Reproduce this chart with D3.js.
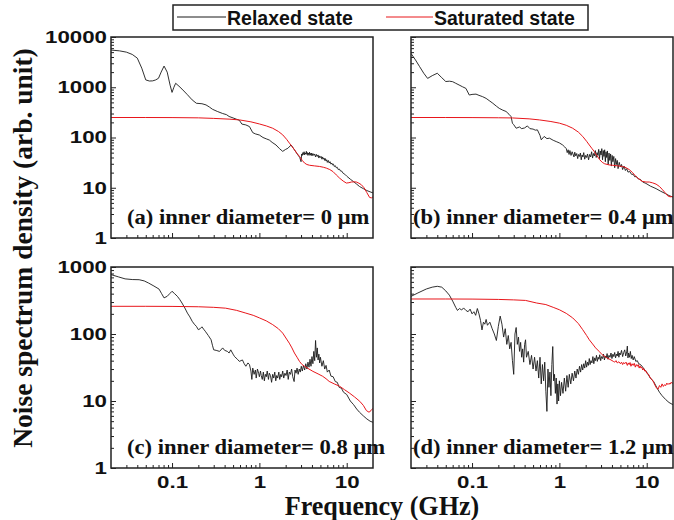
<!DOCTYPE html>
<html>
<head>
<meta charset="utf-8">
<script src="https://d3js.org/d3.v7.min.js"></script>
<style>
  body { margin: 0; background: #fff; }
  svg { display: block; }
</style>
</head>
<body>
<div id="chart"></div>
<script>
// Frequency in GHz, noise spectrum density in arb. unit
const relaxedA = [
  [0.02, 5500], [0.025, 5300], [0.03, 5000], [0.035, 4500], [0.04, 3800], [0.045, 2400], [0.05, 1400],
  [0.055, 1330], [0.06, 1340], [0.065, 1400], [0.07, 1510], [0.075, 2000], [0.081, 2640], [0.088, 2000],
  [0.095, 1100], [0.1, 790], [0.105, 1000], [0.11, 1200], [0.12, 1050], [0.13, 920], [0.15, 710],
  [0.17, 560], [0.19, 480], [0.22, 470], [0.245, 445], [0.27, 400], [0.29, 365], [0.33, 330], [0.38, 300],
  [0.42, 285], [0.45, 262], [0.5, 245], [0.55, 230], [0.59, 220], [0.63, 185], [0.7, 178], [0.77, 165],
  [0.84, 125], [0.9, 118], [1.0, 112], [1.1, 100], [1.2, 94], [1.3, 89], [1.4, 80], [1.55, 71],
  [1.7, 60], [1.85, 53], [2.0, 58], [2.12, 61], [2.31, 71], [2.52, 57], [2.76, 45], [2.9, 40],
  [3.0, 33], [3.05, 47], [3.1, 44], [3.15, 50], [3.2, 46], [3.25, 52], [3.3, 45], [3.35, 49], [3.4, 47],
  [3.45, 53], [3.5, 46], [3.55, 50], [3.6, 44], [3.65, 49], [3.7, 46], [3.75, 51], [3.8, 44], [3.85, 48],
  [3.9, 45], [3.95, 49], [4.0, 43], [4.1, 48], [4.2, 44], [4.3, 47], [4.4, 41], [4.5, 46], [4.6, 42],
  [4.7, 45], [4.8, 39], [4.9, 43], [5.0, 40], [5.1, 42], [5.2, 37], [5.3, 41], [5.4, 37], [5.5, 39],
  [5.6, 35], [5.7, 38], [5.8, 34], [5.9, 36], [6.0, 32], [6.15, 35], [6.3, 31], [6.45, 33], [6.6, 29.5],
  [6.75, 31], [6.9, 28.5], [7.05, 29.5], [7.2, 26.5], [7.4, 27.5], [7.6, 25], [7.8, 25.5], [8.0, 23],
  [8.25, 23.5], [8.5, 21.5], [8.75, 21.5], [9.0, 19.8], [9.5, 18.6], [10, 17], [11, 14.8], [12, 13.2],
  [13, 11.8], [14, 10.6], [15.5, 9.6], [17, 8.8], [18.5, 8.3], [20, 7.9]
];
const saturatedA = [
  [0.02, 250], [0.05, 250], [0.1, 249], [0.2, 246], [0.3, 240], [0.45, 232], [0.59, 224], [0.8, 205],
  [1.0, 186], [1.2, 170], [1.42, 153], [1.65, 132], [1.85, 113], [2.05, 92], [2.21, 77], [2.38, 65],
  [2.52, 57], [2.7, 48], [2.88, 42], [3.1, 35], [3.29, 31], [3.5, 29], [3.76, 28], [4.3, 27.2],
  [4.9, 26.5], [5.4, 25.6], [5.84, 24.6], [6.4, 23], [6.96, 21], [7.6, 18], [8.3, 15.5], [9.1, 13.6],
  [9.9, 12.4], [10.6, 12.6], [11.3, 13], [12.1, 13.1], [12.9, 13], [13.8, 12.3], [14.7, 11.5],
  [15.8, 10], [17, 8], [18.3, 6.4], [19.2, 6.3], [20, 6.6]
];

const relaxedB = [
  [0.02, 4700], [0.0225, 3500], [0.025, 2600], [0.028, 1900], [0.031, 1500], [0.035, 1700], [0.04, 1900],
  [0.045, 1550], [0.05, 1300], [0.055, 1320], [0.06, 1290], [0.065, 1200], [0.071, 1110], [0.078, 1020],
  [0.085, 950], [0.093, 700], [0.1, 720], [0.111, 730], [0.12, 690], [0.132, 650], [0.145, 600],
  [0.16, 530], [0.173, 480], [0.19, 420], [0.205, 380], [0.225, 350], [0.245, 330], [0.265, 290],
  [0.28, 260], [0.29, 192], [0.3, 180], [0.32, 153], [0.35, 162], [0.37, 150], [0.4, 155], [0.43, 170],
  [0.46, 150], [0.5, 147], [0.53, 140], [0.56, 142], [0.6, 110], [0.62, 90], [0.67, 105], [0.72, 95],
  [0.77, 97], [0.85, 88], [0.92, 83], [1.0, 78], [1.09, 71], [1.15, 65], [1.2, 60], [1.23, 50],
  [1.26, 57], [1.29, 46], [1.32, 55], [1.36, 44], [1.4, 52], [1.43, 47], [1.47, 41], [1.5, 51],
  [1.54, 43], [1.58, 48], [1.62, 38], [1.66, 46], [1.7, 42], [1.74, 49], [1.78, 36], [1.82, 45],
  [1.86, 41], [1.9, 50], [1.95, 37], [2.0, 44], [2.05, 40], [2.1, 47], [2.16, 36], [2.22, 46],
  [2.28, 41], [2.34, 52], [2.4, 39], [2.46, 48], [2.52, 43], [2.58, 55], [2.64, 40], [2.7, 50],
  [2.76, 44], [2.82, 58], [2.88, 38], [2.94, 54], [3.0, 45], [3.06, 60], [3.12, 36], [3.18, 55],
  [3.24, 42], [3.3, 57], [3.36, 33], [3.42, 52], [3.48, 40], [3.55, 54], [3.62, 29], [3.7, 49],
  [3.78, 35], [3.86, 47], [3.94, 27], [4.02, 44], [4.1, 33], [4.2, 42], [4.3, 25], [4.4, 38], [4.5, 29],
  [4.6, 35], [4.7, 24], [4.85, 32], [5.0, 26], [5.15, 29], [5.3, 23], [5.5, 27], [5.7, 22], [5.9, 24],
  [6.1, 20.5], [6.4, 21], [6.7, 18.5], [7.0, 18.5], [7.3, 16.5], [7.6, 16.8], [8.0, 15], [8.5, 14.6],
  [9.0, 13], [9.8, 12.2], [11, 10.8], [12.8, 9.6], [14.5, 8.5], [16.5, 7.6], [18, 7], [20, 6.5]
];
const saturatedB = [
  [0.02, 250], [0.05, 250], [0.1, 249], [0.2, 247], [0.29, 245], [0.45, 235], [0.59, 224], [0.8, 208],
  [1.0, 193], [1.2, 175], [1.42, 153], [1.65, 128], [1.85, 105], [2.05, 84], [2.2, 71], [2.35, 61],
  [2.5, 53], [2.7, 43], [2.9, 36], [3.1, 32], [3.3, 30], [3.7, 28.5], [4.1, 28], [4.7, 27.2],
  [5.3, 26.5], [5.8, 25], [6.3, 23], [6.9, 20], [7.5, 16.8], [8.2, 14.8], [8.9, 13.4], [9.8, 13],
  [10.7, 13], [11.7, 12.5], [12.8, 11.8], [14, 10.6], [15.2, 9.1], [16.3, 7.9], [17.4, 6.9],
  [18.5, 6.6], [19.8, 6.7], [20, 6.8]
];

const relaxedC = [
  [0.02, 770], [0.0245, 710], [0.029, 665], [0.035, 650], [0.042, 646], [0.048, 620], [0.054, 575],
  [0.062, 520], [0.071, 468], [0.076, 400], [0.081, 346], [0.088, 365], [0.094, 400], [0.1, 434],
  [0.107, 400], [0.115, 365], [0.122, 330], [0.13, 290], [0.14, 245], [0.15, 205], [0.16, 180],
  [0.17, 155], [0.18, 140], [0.19, 130], [0.2, 116], [0.21, 120], [0.22, 128], [0.23, 118], [0.24, 110],
  [0.26, 95], [0.28, 82], [0.29, 68], [0.3, 58], [0.32, 57], [0.35, 55], [0.38, 62], [0.4, 57],
  [0.43, 55], [0.45, 52], [0.47, 58], [0.5, 50], [0.52, 46], [0.56, 42], [0.59, 39], [0.64, 41],
  [0.67, 36], [0.7, 33], [0.74, 37], [0.77, 35], [0.8, 28], [0.82, 21], [0.84, 31], [0.87, 25],
  [0.9, 29], [0.92, 22], [0.95, 30], [0.98, 26], [1.0, 23], [1.03, 28], [1.05, 24], [1.08, 21],
  [1.11, 27], [1.14, 20], [1.17, 25], [1.2, 23], [1.23, 28], [1.27, 21], [1.3, 26], [1.34, 24],
  [1.38, 19], [1.42, 25], [1.46, 22], [1.5, 27], [1.54, 20], [1.58, 24], [1.62, 22], [1.67, 27],
  [1.71, 21], [1.76, 25], [1.8, 23], [1.85, 28], [1.9, 22], [1.96, 26], [2.02, 24], [2.08, 29],
  [2.14, 21], [2.2, 27], [2.27, 25], [2.34, 30], [2.41, 23], [2.5, 19.5], [2.56, 29], [2.63, 26],
  [2.7, 31], [2.78, 25], [2.86, 30], [2.94, 27], [3.02, 33], [3.1, 28], [3.2, 34], [3.3, 29],
  [3.4, 36], [3.5, 30], [3.6, 38], [3.7, 32], [3.8, 42], [3.9, 33], [4.0, 46], [4.1, 36], [4.2, 55],
  [4.3, 40], [4.4, 80], [4.5, 45], [4.6, 62], [4.7, 41], [4.8, 50], [4.9, 37], [5.0, 45], [5.2, 33],
  [5.4, 40], [5.6, 30], [5.8, 34], [6.0, 27], [6.3, 29], [6.6, 23.5], [7.0, 23], [7.4, 19.5], [7.8, 19],
  [8.2, 16], [8.7, 15.5], [9.2, 13.5], [10, 12.5], [11, 10], [12, 8.8], [13, 7.6], [14, 6.8],
  [15.5, 6], [17, 5.4], [18.5, 5], [20, 4.8]
];
const saturatedC = [
  [0.02, 259], [0.05, 259], [0.1, 258], [0.2, 255], [0.3, 250], [0.41, 243], [0.55, 225], [0.7, 205],
  [0.85, 190], [1.0, 174], [1.2, 157], [1.42, 138], [1.65, 120], [1.85, 103], [2.05, 84], [2.2, 73],
  [2.36, 62], [2.52, 52], [2.7, 45], [2.88, 39], [3.08, 35], [3.29, 33], [3.7, 30], [4.1, 27.7],
  [4.7, 25.4], [5.3, 23.4], [5.8, 21.5], [6.3, 19.6], [7.2, 18], [8.3, 16.6], [9.4, 14.8], [10.7, 13.2],
  [12.3, 11.5], [14.1, 9.9], [15.5, 8.6], [16.8, 7.2], [18, 6.8], [19, 7.2], [20, 7.8]
];

const relaxedD = [
  [0.02, 364], [0.024, 410], [0.03, 470], [0.035, 500], [0.04, 515], [0.045, 500], [0.05, 440],
  [0.055, 380], [0.06, 310], [0.065, 250], [0.068, 225], [0.072, 240], [0.076, 228], [0.08, 245],
  [0.085, 225], [0.09, 215], [0.095, 235], [0.1, 200], [0.105, 215], [0.11, 190], [0.115, 240],
  [0.12, 200], [0.125, 160], [0.13, 115], [0.135, 150], [0.14, 140], [0.145, 165], [0.15, 135],
  [0.16, 150], [0.17, 120], [0.18, 100], [0.19, 80], [0.2, 130], [0.21, 185], [0.22, 140], [0.23, 90],
  [0.24, 120], [0.25, 70], [0.26, 95], [0.27, 60], [0.28, 75], [0.29, 40], [0.3, 25], [0.31, 100],
  [0.32, 125], [0.33, 70], [0.34, 90], [0.35, 55], [0.36, 75], [0.37, 45], [0.38, 60], [0.39, 38],
  [0.4, 70], [0.41, 82], [0.42, 45], [0.44, 55], [0.46, 35], [0.48, 48], [0.5, 30], [0.52, 45],
  [0.54, 28], [0.56, 40], [0.58, 22], [0.6, 45], [0.62, 18], [0.64, 35], [0.66, 20], [0.68, 38],
  [0.7, 14], [0.72, 7], [0.74, 30], [0.76, 16], [0.78, 27], [0.8, 12], [0.82, 35], [0.84, 65],
  [0.86, 20], [0.88, 25], [0.9, 13], [0.92, 22], [0.94, 9], [0.96, 18], [0.98, 10], [1.0, 20],
  [1.03, 12], [1.06, 19], [1.1, 13], [1.14, 22], [1.18, 14], [1.22, 24], [1.26, 16], [1.3, 25],
  [1.35, 18], [1.4, 26], [1.45, 20], [1.5, 28], [1.55, 22], [1.6, 30], [1.65, 25], [1.7, 33],
  [1.75, 27], [1.8, 35], [1.85, 29], [1.9, 36], [1.95, 31], [2.0, 40], [2.05, 32], [2.1, 38],
  [2.15, 34], [2.2, 43], [2.25, 35], [2.3, 40], [2.36, 37], [2.42, 46], [2.48, 36], [2.54, 44],
  [2.6, 40], [2.66, 48], [2.72, 39], [2.78, 45], [2.84, 42], [2.9, 49], [2.97, 40], [3.04, 46],
  [3.12, 43], [3.2, 50], [3.28, 41], [3.36, 47], [3.44, 44], [3.52, 51], [3.6, 42], [3.7, 48],
  [3.8, 45], [3.9, 52], [4.0, 43], [4.1, 50], [4.2, 46], [4.3, 53], [4.4, 44], [4.5, 50], [4.6, 47],
  [4.7, 55], [4.8, 45], [4.9, 52], [5.0, 49], [5.15, 57], [5.3, 46], [5.45, 53], [5.6, 58], [5.75, 47],
  [5.9, 54], [6.0, 66], [6.1, 44], [6.2, 52], [6.35, 45], [6.5, 55], [6.65, 43], [6.8, 48], [7.0, 41],
  [7.2, 46], [7.5, 39], [7.8, 40], [8.1, 36], [8.5, 35], [9.0, 32], [9.5, 29], [10, 27], [11, 22],
  [12, 19.5], [13, 16], [14, 13.5], [15, 12], [16.5, 10.5], [18, 9.5], [20, 8.8]
];
const saturatedD = [
  [0.02, 333], [0.05, 333], [0.1, 332], [0.2, 328], [0.3, 323], [0.41, 317], [0.55, 290], [0.7, 275],
  [0.85, 250], [1.0, 230], [1.2, 203], [1.42, 174], [1.65, 143], [1.85, 116], [2.05, 95], [2.2, 82],
  [2.4, 71], [2.6, 62], [2.85, 55], [3.1, 49], [3.5, 44], [3.9, 41], [4.15, 39], [4.3, 38], [4.45, 40],
  [4.6, 37], [4.8, 38.5], [5.0, 36], [5.15, 38], [5.3, 35], [5.45, 37.5], [5.6, 36], [5.8, 38],
  [6.0, 34], [6.15, 37], [6.3, 35], [6.45, 37.5], [6.6, 33], [6.8, 36], [7.0, 34], [7.2, 36.5],
  [7.4, 32], [7.6, 35], [7.8, 33], [8.0, 35], [8.2, 31], [8.4, 33.5], [8.6, 31], [8.8, 32], [9.0, 29],
  [9.25, 30.5], [9.5, 28], [9.75, 28.5], [10, 26], [10.5, 25], [11, 22], [11.5, 21], [12, 19],
  [12.5, 17], [13, 15.5], [13.5, 15], [14, 17], [14.5, 16], [15, 18], [15.5, 16.5], [16, 17.5],
  [16.5, 17], [17, 18.5], [17.5, 17.6], [18, 18.4], [18.5, 17.8], [19, 19], [19.5, 18.4], [20, 18.6]
];

const panelLabels = ['(a) inner diameter= 0 \u03bcm', '(b) inner diameter= 0.4 \u03bcm',
                     '(c) inner diameter= 0.8 \u03bcm', '(d) inner diameter= 1.2 \u03bcm'];
const yTopTicks = [1, 10, 100, 1000, 10000];
const yBottomTicks = [1, 10, 100, 1000];
const xTicks = [0.1, 1, 10];
const seriesNames = ['Relaxed state', 'Saturated state'];

const width = 674, height = 520;
const svg = d3.select('#chart').append('svg').attr('width', width).attr('height', height);

const pw = 262, ph = 201;
const colX = [111, 411], rowY = [37, 267];
const sans = '"Liberation Sans", Arial, sans-serif';
const serif = '"Liberation Serif", "Times New Roman", serif';

const panels = [
  { rel: relaxedA, sat: saturatedA, yMax: 10000, ticks: yTopTicks, col: 0, row: 0 },
  { rel: relaxedB, sat: saturatedB, yMax: 10000, ticks: yTopTicks, col: 1, row: 0 },
  { rel: relaxedC, sat: saturatedC, yMax: 1000, ticks: yBottomTicks, col: 0, row: 1 },
  { rel: relaxedD, sat: saturatedD, yMax: 1000, ticks: yBottomTicks, col: 1, row: 1 }
];

function minorTicks(lo, hi) {
  const out = [];
  for (let dec = 0.01; dec <= hi; dec *= 10) {
    for (let m = 2; m <= 9; m++) {
      const v = +(dec * m).toPrecision(3);
      if (v > lo && v < hi) out.push(v);
    }
  }
  return out;
}

// the original lettering is drawn wider than the font's own width
function widen(sel, factor) {
  sel.each(function () {
    const w = this.getComputedTextLength();
    if (w > 0) d3.select(this).attr('textLength', w * factor).attr('lengthAdjust', 'spacingAndGlyphs');
  });
}

panels.forEach((p, i) => {
  const g = svg.append('g').attr('transform', `translate(${colX[p.col]},${rowY[p.row]})`);
  const x = d3.scaleLog().domain([0.02, 20]).range([0, pw]);
  const y = d3.scaleLog().domain([1, p.yMax]).range([ph, 0]);

  g.append('clipPath').attr('id', 'clip' + i)
    .append('rect').attr('width', pw).attr('height', ph);

  const line = d3.line().x(d => x(d[0])).y(d => y(d[1]));
  const plot = g.append('g').attr('clip-path', `url(#clip${i})`);
  plot.append('path').datum(p.rel)
    .attr('fill', 'none').attr('stroke', '#1a1a1a').attr('stroke-width', 0.9)
    .attr('stroke-linejoin', 'round').attr('d', line);
  plot.append('path').datum(p.sat)
    .attr('fill', 'none').attr('stroke', '#e8161b').attr('stroke-width', 1)
    .attr('stroke-linejoin', 'round').attr('d', line);

  // left axis, ticks pointing inward
  const yMajor = d3.axisLeft(y).tickValues(p.ticks).tickSize(-5).tickPadding(4)
    .tickFormat(p.col === 0 ? d3.format('d') : '');
  g.append('g').call(yMajor);
  g.append('g').call(d3.axisLeft(y).tickValues(minorTicks(1, p.yMax)).tickSize(-3).tickFormat(''));

  // bottom axis, ticks pointing inward
  const xMajor = d3.axisBottom(x).tickValues(xTicks).tickSize(-5).tickPadding(8.5)
    .tickFormat(p.row === 1 ? (d => String(d)) : '');
  g.append('g').attr('transform', `translate(0,${ph})`).call(xMajor);
  g.append('g').attr('transform', `translate(0,${ph})`)
    .call(d3.axisBottom(x).tickValues(minorTicks(0.02, 20)).tickSize(-3).tickFormat(''));

  g.selectAll('.domain').remove();
  g.selectAll('.tick line').attr('stroke', '#222').attr('stroke-width', 1);
  g.selectAll('.tick text').attr('font-family', sans).attr('font-weight', 'bold')
    .attr('font-size', 16.5).attr('fill', '#111').call(widen, 1.35);

  g.append('rect').attr('width', pw).attr('height', ph)
    .attr('fill', 'none').attr('stroke', '#222').attr('stroke-width', 1.5);

  g.append('text').attr('x', p.col === 0 ? 16 : 2).attr('y', ph - 14)
    .attr('font-family', serif).attr('font-weight', 'bold').attr('font-size', 20)
    .attr('fill', '#111').text(panelLabels[i]).call(widen, 1.13);
});

// legend
const lg = svg.append('g');
lg.append('rect').attr('x', 173).attr('y', 5).attr('width', 415).attr('height', 25)
  .attr('fill', '#fff').attr('stroke', '#222').attr('stroke-width', 1.5);
const legendItems = [
  { name: seriesNames[0], color: '#1a1a1a', x0: 177, x1: 226 },
  { name: seriesNames[1], color: '#e8161b', x0: 386, x1: 433 }
];
legendItems.forEach(it => {
  lg.append('line').attr('x1', it.x0).attr('x2', it.x1).attr('y1', 17).attr('y2', 17)
    .attr('stroke', it.color).attr('stroke-width', 1);
  lg.append('text').attr('x', it.x1 + 1).attr('y', 24.5)
    .attr('font-family', sans).attr('font-weight', 'bold').attr('font-size', 19.5)
    .attr('fill', '#111').text(it.name);
});

// axis titles
svg.append('text').attr('transform', 'translate(32,248) rotate(-90)')
  .attr('text-anchor', 'middle').attr('font-family', serif).attr('font-weight', 'bold')
  .attr('font-size', 27.5).attr('fill', '#111').text('Noise spectrum density (arb. unit)');
svg.append('text').attr('x', 382).attr('y', 515)
  .attr('text-anchor', 'middle').attr('font-family', serif).attr('font-weight', 'bold')
  .attr('font-size', 27).attr('fill', '#111').text('Frequency (GHz)').call(widen, 195 / 201.7);
</script>
</body>
</html>
